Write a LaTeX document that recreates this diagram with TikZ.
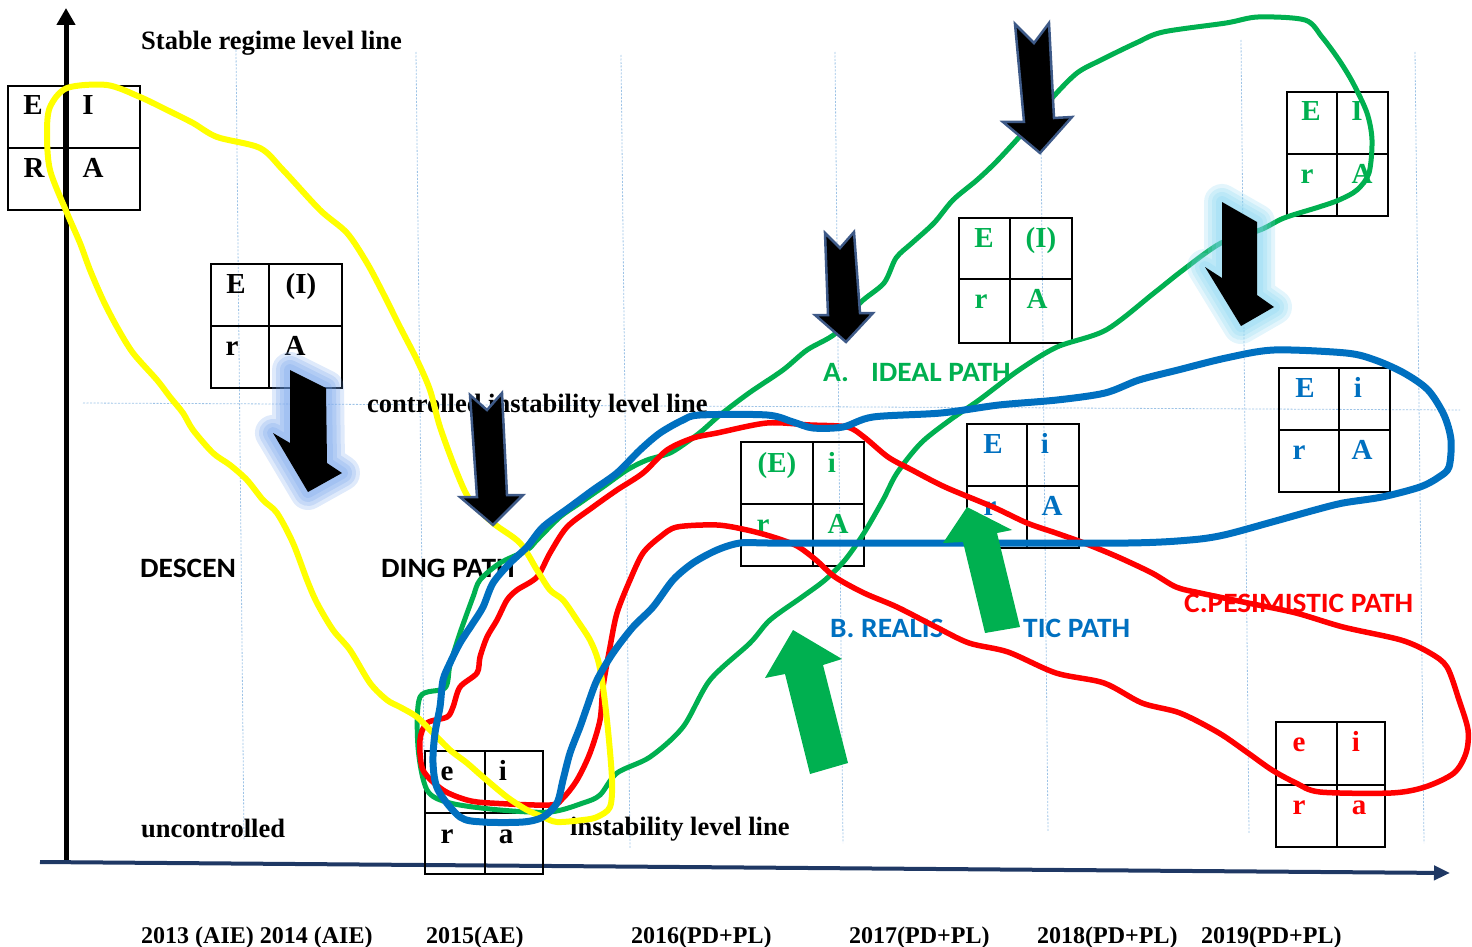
\documentclass[tikz,border=0pt]{standalone}
\usepackage{fontspec}
\setmainfont{Liberation Serif}
\newfontfamily\calibri[FakeStretch=1.05]{Carlito}
\usetikzlibrary{arrows.meta}

\definecolor{pgreen}{HTML}{00B050}
\definecolor{pblue}{HTML}{0070C0}
\definecolor{pred}{HTML}{FF0000}
\definecolor{pyellow}{HTML}{FFFF00}
\definecolor{gridblue}{HTML}{9DC3E6}
\definecolor{axisnavy}{HTML}{1F3864}
\definecolor{rimblue}{HTML}{3E5A88}
\definecolor{glowblue}{HTML}{6D9EEB}
\definecolor{glowcyan}{HTML}{7FD3F0}

\tikzset{
  cell/.style={font=\bfseries\fontsize{29}{29}\selectfont, inner sep=0pt, anchor=base},
  level/.style={font=\bfseries\fontsize{26.5}{26}\selectfont, inner sep=0pt, anchor=base west},
  pathname/.style={font=\calibri\bfseries\fontsize{28}{28}\selectfont, inner sep=0pt, anchor=base west},
  year/.style={font=\bfseries\fontsize{24}{24}\selectfont, inner sep=0pt, anchor=base west},
  gridline/.style={gridblue, line width=0.8pt, dash pattern=on 2pt off 1.5pt},
  curve/.style={line width=#1, line join=round, line cap=round},
  downarrow/.style={fill=black, draw=rimblue, line width=2.5pt},
  uparrow/.style={fill=pgreen},
}

\begin{document}
\begin{tikzpicture}[x=1pt, y=-1pt]
\useasboundingbox (0,0) rectangle (1472,947);

% grid
\foreach \xt/\yt/\xb/\yb in {236/50/244/840, 416/52/425/845, 621/55/630/848,
    835/52/843/843, 1040/45/1048/832, 1241/40/1249/833, 1415/52/1424/843}
  \draw[gridline] (\xt,\yt) -- (\xb,\yb);
\draw[gridline] (83,403) -- (1460,410);

% axes
\coordinate (origin) at (66,860);
\coordinate (ytop) at (66,8);
\coordinate (xstart) at (40,862);
\coordinate (xend) at (1450,873);
\draw[line width=5pt, -{Triangle[width=18pt,length=17pt]}] (origin) -- (ytop);
\draw[axisnavy, line width=4pt, -{Triangle[width=14pt,length=16pt]}] (xstart) -- (xend);

% E I R A boxes
\foreach \xa/\xm/\xb/\ya/\ym/\yb in {8/64/140/86/148/210, 211/269/342/264/326/388,
    425/485/543/751/813/874, 741/813/864/442/504/566, 959/1010/1072/218/279/343,
    1287/1337/1388/92/154/216, 1279/1339/1390/368/430/492,
    967/1027/1079/424/486/548, 1276/1337/1385/722/785/847}
  \draw[line width=2pt] (\xa,\ya) rectangle (\xb,\yb) (\xm,\ya) -- (\xm,\yb) (\xa,\ym) -- (\xb,\ym);

\node[cell] (b1E) at (33,115) {E};
\node[cell] (b1I) at (88,115) {I};
\node[cell] (b1R) at (34,177) {R};
\node[cell] (b1A) at (93,177) {A};

\node[cell] (b2E) at (236,293) {E};
\node[cell] (b2I) at (301,293) {(I)};
\node[cell] (b2r) at (232,355) {r};
\node[cell] (b2A) at (295,355) {A};

\node[cell] (b3e) at (447,780) {e};
\node[cell] (b3i) at (503,780) {i};
\node[cell] (b3r) at (447,843) {r};
\node[cell] (b3a) at (506,843) {a};

\node[cell, pgreen] (b4E) at (777,472) {(E)};
\node[cell, pgreen] (b4i) at (832,472) {i};
\node[cell, pgreen] (b4r) at (763,533) {r};
\node[cell, pgreen] (b4A) at (838,533) {A};

\node[cell, pgreen] (b5E) at (984,247) {E};
\node[cell, pgreen] (b5I) at (1041,247) {(I)};
\node[cell, pgreen] (b5r) at (981,308) {r};
\node[cell, pgreen] (b5A) at (1037,308) {A};

\node[cell, pgreen] (b6E) at (1311,121) {E};
\node[cell, pgreen] (b6I) at (1357,121) {I};
\node[cell, pgreen] (b6r) at (1307,183) {r};
\node[cell, pgreen] (b6A) at (1362,183) {A};

\node[cell, pblue] (b7E) at (1305,397) {E};
\node[cell, pblue] (b7i) at (1358,397) {i};
\node[cell, pblue] (b7r) at (1299,459) {r};
\node[cell, pblue] (b7A) at (1362,459) {A};

\node[cell, pblue] (b8E) at (993,453) {E};
\node[cell, pblue] (b8i) at (1045,453) {i};
\node[cell, pblue] (b8r) at (990,515) {r};
\node[cell, pblue] (b8A) at (1052,515) {A};

\node[cell, pred] (b9e) at (1299,751) {e};
\node[cell, pred] (b9i) at (1356,751) {i};
\node[cell, pred] (b9r) at (1299,814) {r};
\node[cell, pred] (b9a) at (1359,814) {a};

% level lines and path names
\node[level] (stable) at (141,50) {Stable regime level line};
\node[level] (controlled) at (367,412) {controlled instability level line};
\node[level] (uncontrolled) at (141,837) {uncontrolled};
\node[level] (instability) at (570,835) {instability level line};

\node[pathname] (descen) at (140,577) {DESCEN};
\node[pathname] (dingpath) at (381,577) {DING PATH};
\node[pathname, pgreen] (ideal) at (823,381) {A.\hspace{22pt}IDEAL PATH};
\node[pathname, pblue] (realis) at (830,637) {B. REALIS};
\node[pathname, pblue] (ticpath) at (1023,637) {TIC PATH};
\node[pathname, pred] (pesim) at (1184,612) {C.PESIMISTIC PATH};

% years
\node[year] (y1314) at (141,943) {2013 (AIE) 2014 (AIE)};
\node[year] (y15) at (426,943) {2015(AE)};
\node[year] (y16) at (631,943) {2016(PD+PL)};
\node[year] (y17) at (849,943) {2017(PD+PL)};
\node[year] (y18) at (1037,943) {2018(PD+PL)};
\node[year] (y19) at (1201,943) {2019(PD+PL)};

% ideal path
\draw[pgreen, curve=5pt] plot[smooth cycle, tension=0.5] coordinates {
  (445,688) (420,697) (418,747) (427,790) (450,803) (500,810) (550,812) (583,803)
  (600,795) (617,773) (650,757) (683,727) (710,680) (750,643) (770,620) (802,597)
  (825,580) (845,560) (864,533) (883,500) (897,473) (921,443) (950,420) (979,400)
  (1019,370) (1057,347) (1106,330) (1154,293) (1183,270) (1221,243) (1260,230)
  (1284,218) (1319,207) (1339,200) (1357,190) (1369,173) (1372,140) (1367,113)
  (1353,83) (1339,60) (1322,37) (1305,20) (1258,17) (1226,23) (1163,32) (1136,43)
  (1101,60) (1077,73) (1053,97) (1030,125) (998,160) (977,180) (953,200) (934,223)
  (912,243) (896,258) (884,283) (860,303) (836,333) (807,350) (783,370) (749,393)
  (720,415) (703,430) (690,440) (670,453) (647,460) (627,470) (603,487) (580,503)
  (560,517) (537,540) (527,550) (500,563) (480,580) (473,597) (460,633) (450,665)};

% pessimistic path
\draw[pred, curve=5.5pt] plot[smooth cycle, tension=0.5] coordinates {
  (550,805) (490,803) (467,800) (443,790) (423,770) (420,740) (427,723) (447,717)
  (453,707) (460,687) (477,673) (480,657) (487,637) (497,620) (507,600) (517,590)
  (537,577) (550,553) (567,527) (593,507) (617,490) (643,473) (667,450) (693,438)
  (717,433) (767,423) (810,425) (847,427) (864,437) (888,457) (912,470) (945,487)
  (993,507) (1027,523) (1056,533) (1084,543) (1118,557) (1152,573) (1176,587)
  (1200,593) (1248,603) (1296,613) (1343,627) (1401,640) (1430,653) (1447,667)
  (1459,700) (1468,730) (1466,753) (1454,773) (1425,787) (1391,793) (1320,792)
  (1296,783) (1272,770) (1248,753) (1219,733) (1180,713) (1142,703) (1104,683)
  (1056,673) (1008,652) (969,643) (936,627) (897,607) (864,593) (835,577) (816,560)
  (797,546) (773,537) (747,530) (717,525) (677,527) (660,537) (643,553) (630,580)
  (617,613) (610,647) (603,687) (600,720) (590,753) (577,780) (563,798)};

% descending path
\draw[pyellow, curve=6pt] plot[smooth cycle, tension=0.5] coordinates {
  (67,88) (107,85) (140,97) (167,110) (193,123) (217,137) (260,148) (283,170)
  (320,210) (347,233) (367,263) (383,293) (400,327) (417,360) (430,390) (440,427)
  (457,473) (470,500) (493,523) (520,543) (537,570) (550,590) (563,600) (577,620)
  (590,640) (598,660) (603,687) (608,730) (612,780) (610,807) (597,817) (583,820)
  (557,822) (543,817) (527,810) (507,797) (483,777) (467,763) (450,750) (433,733)
  (417,717) (400,707) (387,700) (370,683) (350,650) (333,630) (317,603) (307,580)
  (293,543) (277,513) (263,500) (247,480) (230,465) (213,453) (193,430) (183,413)
  (170,397) (157,380) (133,353) (117,327) (103,300) (90,270) (80,243) (67,213)
  (50,170) (47,133) (50,107)};

% realistic path
\draw[pblue, curve=7pt] plot[smooth cycle, tension=0.5] coordinates {
  (700,415) (767,415) (793,422) (813,428) (843,427) (873,417) (941,413) (999,405)
  (1057,400) (1105,393) (1139,380) (1178,370) (1226,358) (1274,350) (1346,353)
  (1375,360) (1404,373) (1428,390) (1444,415) (1451,440) (1449,467) (1439,477)
  (1420,487) (1382,497) (1343,503) (1315,510) (1272,522) (1224,535) (1190,540)
  (1128,543) (960,543) (816,543) (768,543) (740,543) (717,550) (693,563) (673,580)
  (653,607) (633,627) (613,653) (597,680) (587,707) (580,727) (570,753) (563,780)
  (557,803) (543,817) (523,822) (483,822) (460,817) (438,790) (433,763) (435,733)
  (440,707) (443,680) (450,663) (460,643) (473,623) (483,607) (493,583) (510,563)
  (527,547) (543,527) (570,507) (593,490) (617,473) (640,450) (660,433) (683,420)};

% pressure arrows
\draw[downarrow] (470,395) -- (487,410) -- (502,393) -- (507,495) -- (523,495)
  -- (493,525) -- (460,497) -- (477,497) -- cycle;
\draw[downarrow] (825,233) -- (840,248) -- (854,232) -- (860,313) -- (873,313)
  -- (846,342) -- (815,315) -- (828,315) -- cycle;
\draw[downarrow] (1015,24) -- (1034,43) -- (1049,23) -- (1054,118) -- (1072,117)
  -- (1040,153) -- (1003,122) -- (1024,122) -- cycle;

\foreach \w in {36,28,20,12}
  \draw[glowblue, opacity=0.22, line width=\w pt, line join=round] (290,370) -- (326,388)
    -- (327,463) -- (342,473) -- (308,492) -- (273,433) -- (290,443) -- cycle;
\fill[black] (290,370) -- (326,388) -- (327,463) -- (342,473) -- (308,492)
  -- (273,433) -- (290,443) -- cycle;

\foreach \w in {36,28,20,12}
  \draw[glowcyan, opacity=0.22, line width=\w pt, line join=round] (1222,202) -- (1257,222)
    -- (1257,295) -- (1274,307) -- (1241,326) -- (1205,267) -- (1222,278) -- cycle;
\fill[black] (1222,202) -- (1257,222) -- (1257,295) -- (1274,307) -- (1241,326)
  -- (1205,267) -- (1222,278) -- cycle;

\fill[uparrow] (793,630) -- (842,659) -- (823,665) -- (848,763) -- (810,774)
  -- (785,674) -- (765,678) -- cycle;
\fill[uparrow] (967,507) -- (1012,530) -- (997,533) -- (1020,627) -- (985,633)
  -- (963,542) -- (943,543) -- cycle;

\end{tikzpicture}
\end{document}
